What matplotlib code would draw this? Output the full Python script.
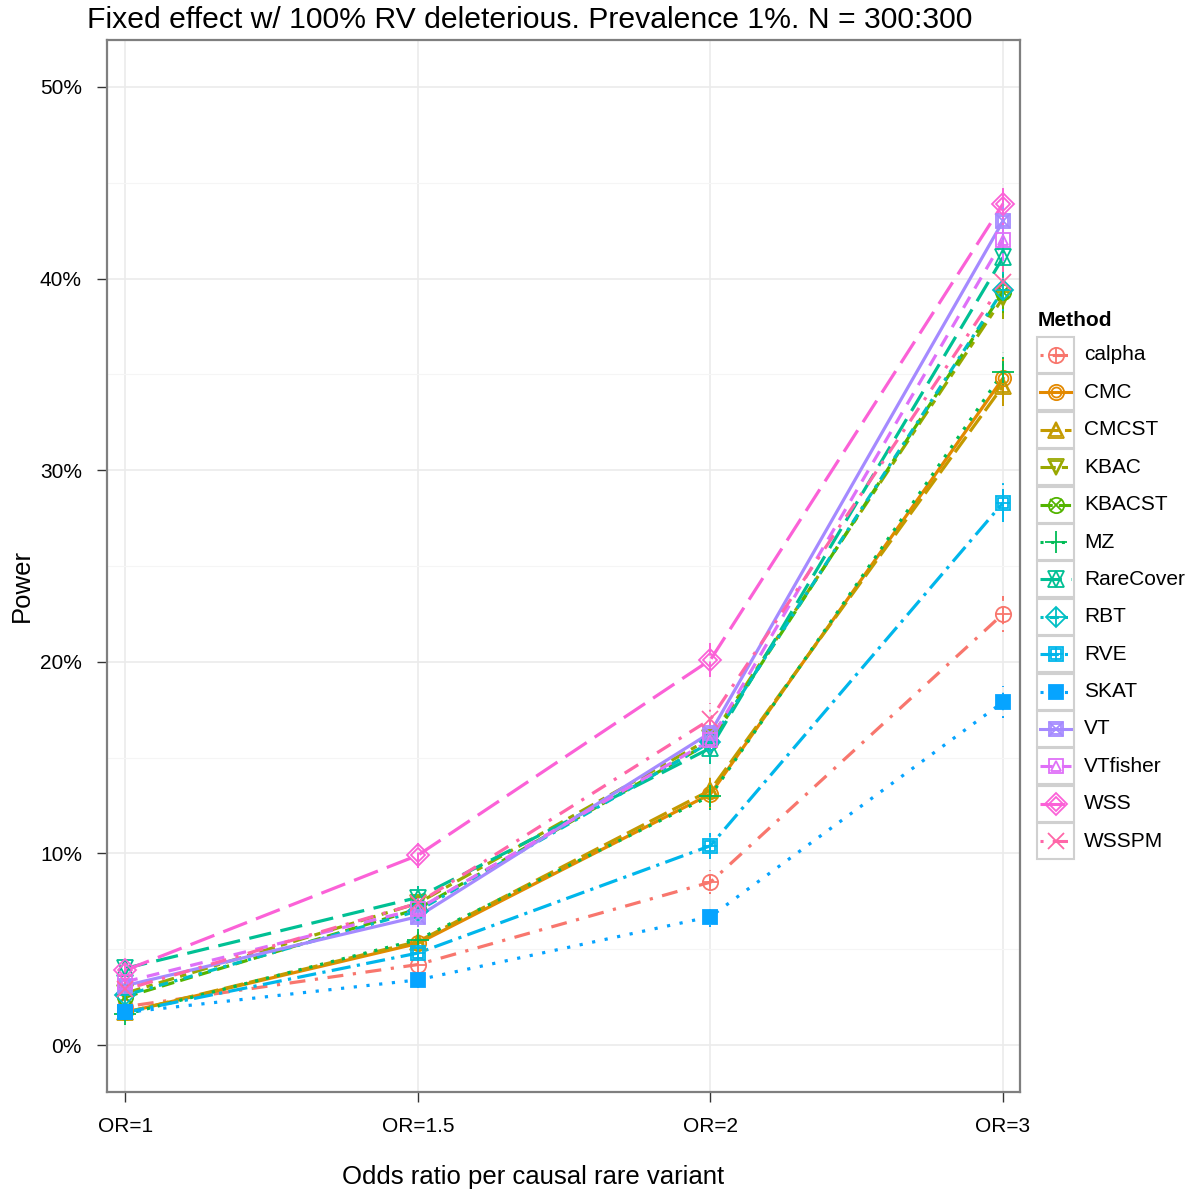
import numpy as np
import matplotlib
matplotlib.use('Agg')
import matplotlib.pyplot as plt
from matplotlib.patches import Rectangle

plt.rcParams['font.family'] = ['Liberation Sans', 'DejaVu Sans']

# power (%) per method, at each odds ratio
or_labels = ['OR=1', 'OR=1.5', 'OR=2', 'OR=3']
methods = ['calpha', 'CMC', 'CMCST', 'KBAC', 'KBACST', 'MZ', 'RareCover',
           'RBT', 'RVE', 'SKAT', 'VT', 'VTfisher', 'WSS', 'WSSPM']

calpha = [2.0, 4.2, 8.5, 22.5]
cmc = [1.7, 5.3, 13.1, 34.8]
cmcst = [1.7, 5.4, 13.3, 34.4]
kbac = [2.7, 7.4, 16.0, 39.0]
kbacst = [2.5, 7.1, 15.8, 39.3]
mz = [1.6, 5.5, 13.0, 35.1]
rarecover = [4.0, 7.7, 15.5, 41.1]
rbt = [2.6, 7.0, 15.8, 39.4]
rve = [1.7, 4.8, 10.4, 28.3]
skat = [1.7, 3.4, 6.7, 17.9]
vt = [3.1, 6.7, 16.3, 43.0]
vtfisher = [3.3, 7.1, 15.9, 42.0]
wss = [3.9, 9.9, 20.1, 43.9]
wsspm = [2.9, 7.4, 17.0, 39.8]

power = [calpha, cmc, cmcst, kbac, kbacst, mz, rarecover,
         rbt, rve, skat, vt, vtfisher, wss, wsspm]

n_replicates = 2000  # used for the standard error bars

colors = ['#F8766D', '#E38900', '#C49A00', '#99A800', '#53B400', '#00BC56',
          '#00C094', '#00BFC4', '#00B6EB', '#06A4FF', '#A58AFF', '#DF70F8',
          '#FB61D7', '#FF66A8']

linestyles = [(0, (1, 3, 5, 3)), '-', (0, (6, 2)), (0, (5, 2, 2, 2)), (0, (4, 2)),
              (0, (1, 2.5)), (0, (7, 3)), (0, (1, 2, 3, 2)), (0, (6, 2, 1, 2)),
              (0, (1, 3)), '-', (0, (4, 3)), (0, (8, 3)), (0, (1, 3, 5, 3))]

# composite point shapes (marker, relative size, filled)
shapes = [
  [('o', 1.0, False), ('+', 1.0, False)],
  [('o', 1.0, False), ('o', 0.65, False)],
  [('^', 1.1, False), ('^', 0.75, False)],
  [('v', 1.1, False), ('v', 0.75, False)],
  [('o', 1.0, False), ('x', 0.75, False)],
  [('+', 1.4, False)],
  [('^', 1.1, False), ('v', 1.1, False)],
  [('D', 0.95, False), ('+', 1.3, False)],
  [('s', 0.95, False), ('+', 0.95, False), ('s', 0.6, False)],
  [('s', 0.95, True)],
  [('s', 0.95, False), ('x', 0.9, False), ('s', 0.6, False)],
  [('s', 0.95, False), ('^', 0.65, False)],
  [('D', 1.0, False), ('D', 0.65, False)],
  [('x', 1.1, False)],
]

MS = 11


def draw_point(ax, x, y, color, shape, ms=MS, **kw):
  for m, s, filled in shape:
    ax.plot(x, y, linestyle='none', marker=m, markersize=ms * s,
            markerfacecolor=color if filled else 'none',
            markeredgecolor=color, markeredgewidth=1.3, **kw)


W, H = 1192, 1191
fig = plt.figure(figsize=(W / 100, H / 100), dpi=100)
ax = fig.add_axes([107 / W, 1 - 1092 / H, (1020 - 107) / W, (1092 - 40) / H])

x = np.arange(1, len(or_labels) + 1)
for vals, col, ls, shp in zip(power, colors, linestyles, shapes):
  v = np.array(vals)
  p = v / 100
  se = np.sqrt(p * (1 - p) / n_replicates) * 100
  ax.plot(x, v, color=col, linestyle=ls, linewidth=2.3, zorder=3)
  ax.vlines(x, v - se, v + se, color=col, linestyle=ls, linewidth=1.4, zorder=3)
  draw_point(ax, x, v, col, shp, zorder=4)

ax.set_xlim(0.938, 4.058)
ax.set_ylim(-2.45, 52.45)
ax.set_xticks(x)
ax.set_xticklabels(or_labels)
ax.set_yticks(np.arange(0, 51, 10))
ax.set_yticklabels(['%d%%' % t for t in range(0, 51, 10)])
ax.set_yticks(np.arange(5, 51, 10), minor=True)
ax.tick_params(axis='both', which='major', labelsize=15, length=7, width=1,
               color='#333333', labelcolor='black', pad=11)
ax.tick_params(axis='y', which='minor', length=0)
ax.grid(True, which='major', color='#EBEBEB', linewidth=1.2, zorder=0)
ax.grid(True, which='minor', axis='y', color='#F5F5F5', linewidth=0.8, zorder=0)
ax.set_axisbelow(True)
for sp in ax.spines.values():
  sp.set_color('#7F7F7F')
  sp.set_linewidth(1.6)

ax.set_xlabel('Odds ratio per causal rare variant', fontsize=18.5)
ax.xaxis.set_label_coords((533 - 107) / 913, (1092 - 1177) / 1052)
ax.xaxis.label.set_va('center')
ax.set_ylabel('Power', fontsize=18.5)
ax.yaxis.set_label_coords((22 - 107) / 913, (1092 - 585) / 1052)
ax.yaxis.label.set_va('center')
fig.text(530 / W, 1 - 20 / H,
         'Fixed effect w/ 100% RV deleterious. Prevalence 1%. N = 300:300',
         fontsize=21.7, ha='center', va='center')

# legend, drawn in pixel coordinates
lg = fig.add_axes([0, 0, 1, 1], facecolor='none')
lg.set_xlim(0, W)
lg.set_ylim(H, 0)
lg.axis('off')
lg.text(1038, 320, 'Method', fontsize=15, fontweight='bold', ha='left', va='center')
for i, (name, col, ls, shp) in enumerate(zip(methods, colors, linestyles, shapes)):
  yc = 355 + 37.4 * i
  lg.add_patch(Rectangle((1037, yc - 18), 37, 36, facecolor='white',
                         edgecolor='#D0D0D0', linewidth=1.5))
  lg.plot([1040, 1071], [yc, yc], color=col, linestyle=ls, linewidth=2.2)
  draw_point(lg, [1055.5], [yc], col, shp)
  lg.text(1084, yc, name, fontsize=15, ha='left', va='center')

fig.savefig('out.png', dpi=100)
